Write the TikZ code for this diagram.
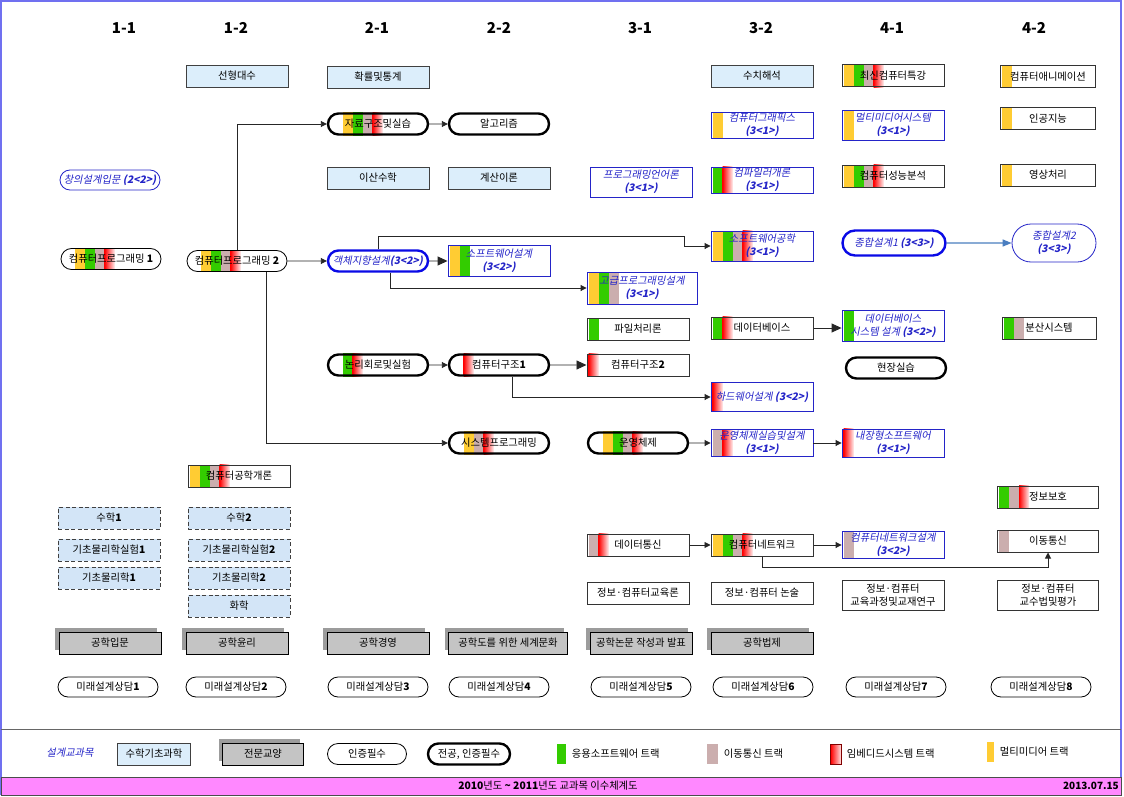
\documentclass[tikz,border=0pt]{standalone}
\usepackage{fontspec}
\setmainfont{Noto Sans CJK KR}
\newfontfamily\kritfont{Noto Sans CJK KR}[FakeSlant=0.2]
\usepackage{tikz}
\usetikzlibrary{positioning,calc,shapes.misc,arrows.meta,shadows}

\definecolor{MathBlue}{HTML}{DCEEFB}
\definecolor{SciBlue}{HTML}{D3E5F7}
\definecolor{LibGray}{HTML}{C4C4C4}
\definecolor{ShadowGray}{HTML}{9C9C9C}
\definecolor{DsnBlue}{HTML}{2424C8}
\definecolor{OopBlue}{HTML}{0A0AE6}
\definecolor{FrameBlue}{HTML}{7070F0}
\definecolor{TrkYellow}{HTML}{FFCC33}
\definecolor{TrkGreen}{HTML}{33CC00}
\definecolor{TrkPink}{HTML}{CBAEAE}
\definecolor{TrkRed}{HTML}{FF0000}
\definecolor{BarPink}{HTML}{FF88FF}
\definecolor{LinkBlue}{HTML}{4A7EC0}

\newcommand\crsfont{\fontsize{10.3}{12.5}\selectfont}
\newcommand\dsnfont{\kritfont\fontsize{10.3}{12.5}\selectfont}
\newcommand\hdrfont{\bfseries\fontsize{15}{18}\selectfont}

\pgfdeclarelayer{background}
\pgfdeclarelayer{bars}
\pgfsetlayers{background,bars,main}

% track bars at the left end of a course box
\newcommand\tracks[3][2]{%
  \begin{pgfonlayer}{bars}
  \foreach \kind [count=\i from 0] in {#3}
    \path[trk\kind] ($(#2.north west)+(#1+10*\i,0)$) rectangle ($(#2.south west)+(#1+10+10*\i,0)$);
  \end{pgfonlayer}}

\begin{document}
\begin{tikzpicture}[x=1pt,y=-1pt,
    every node/.style={font=\crsfont,inner sep=1pt,align=center},
    hdr/.style={font=\hdrfont},
    cbox/.style={rectangle,minimum width=102pt,minimum height=22pt},
    mathbox/.style={cbox,draw=black!75,line width=0.9pt,fill=MathBlue},
    scibox/.style={cbox,draw=black!75,line width=0.9pt,dash pattern=on 4pt off 2.5pt,fill=SciBlue},
    crs/.style={cbox,draw=black!80,line width=1pt},
    dsn/.style={cbox,draw=DsnBlue,line width=0.9pt,text=DsnBlue,font=\dsnfont},
    req/.style={rounded rectangle,draw=black,line width=0.8pt,minimum width=102pt,minimum height=21pt},
    major/.style={req,line width=2.4pt},
    majorblue/.style={major,draw=OopBlue,text=DsnBlue,font=\dsnfont},
    reqblue/.style={req,draw=DsnBlue,text=DsnBlue,font=\dsnfont},
    lib/.style={cbox,draw=black,line width=0.8pt,fill=LibGray,
      drop shadow={shadow xshift=-4pt,shadow yshift=4pt,fill=ShadowGray,opacity=1}},
    trkY/.style={fill=TrkYellow},
    trkG/.style={fill=TrkGreen},
    trkP/.style={fill=TrkPink},
    trkR/.style={left color=TrkRed,right color=TrkRed!8},
    swatch/.style={minimum width=9pt,minimum height=20pt,inner sep=0pt},
    arr/.style={-{Triangle[length=6pt,width=6pt]},line width=0.9pt,draw=black!85},
    arrbig/.style={arr,-{Triangle[length=10pt,width=9pt]}},
    arrblue/.style={-{Triangle[length=9pt,width=7pt]},draw=LinkBlue,line width=1.3pt}]
  \useasboundingbox (0,0) rectangle (1124,797);
  \begin{pgfonlayer}{background}
    \fill[white] (0,0) rectangle (1124,797);
  \end{pgfonlayer}

  % frame, legend rule and title bar
  \draw[FrameBlue,line width=1.5pt] (1,795) -- (1,1) -- (1121,1) -- (1121,795);
  \draw[black!60,line width=1pt] (1,729) -- (1121,729);
  \draw[fill=BarPink,draw=black!70,line width=1pt] (1,777) rectangle (1121,795);

  % semesters
  \node[hdr] (s11) at (124,28) {1-1};
  \node[hdr] (s12) at (236,28) {1-2};
  \node[hdr] (s21) at (377,28) {2-1};
  \node[hdr] (s22) at (499,28) {2-2};
  \node[hdr] (s31) at (640,28) {3-1};
  \node[hdr] (s32) at (761,28) {3-2};
  \node[hdr] (s41) at (892,28) {4-1};
  \node[hdr] (s42) at (1034,28) {4-2};

  % courses
  \node[mathbox] (linalg) at (237,76) {선형대수};
  \node[mathbox] (prob) at (378,77) {확률및통계};
  \node[mathbox] (numan) at (762,76) {수치해석};
  \node[crs] (topics) at (893,76) {최신컴퓨터특강};
  \node[crs,minimum width=95pt] (anim) at (1048,77) {컴퓨터애니메이션};

  \node[major] (ds) at (378,124) {자료구조및실습};
  \node[major] (algo) at (499,124) {알고리즘};
  \node[dsn,minimum height=26pt] (cg) at (762,125) {컴퓨터그래픽스\\\textbf{(3<1>)}};
  \node[dsn,minimum height=30pt] (mms) at (893,125) {멀티미디어시스템\\\textbf{(3<1>)}};
  \node[crs,minimum width=95pt] (ai) at (1048,119) {인공지능};

  \node[reqblue,minimum height=20pt] (cdi) at (110,180) {창의설계입문 \textbf{(2<2>)}};
  \node[mathbox] (dmath) at (378,178) {이산수학};
  \node[mathbox] (toc) at (499,178) {계산이론};
  \node[dsn,minimum height=30pt] (pl) at (641,182) {프로그래밍언어론\\\textbf{(3<1>)}};
  \node[dsn,minimum height=26pt] (comp) at (762,180) {컴파일러개론\\\textbf{(3<1>)}};
  \node[crs] (perf) at (893,176) {컴퓨터성능분석};
  \node[crs,minimum width=95pt] (img) at (1048,175) {영상처리};

  \node[req] (pg1) at (111,259) {컴퓨터프로그래밍 \textbf{1}};
  \node[req] (pg2) at (237,261) {컴퓨터프로그래밍 \textbf{2}};
  \node[majorblue] (oop) at (378,261) {객체지향설계\textbf{(3<2>)}};
  \node[dsn,minimum height=31pt] (swd) at (499,261) {소프트웨어설계\\\textbf{(3<2>)}};
  \node[dsn,minimum height=30pt] (swe) at (762,246) {소프트웨어공학\\\textbf{(3<1>)}};
  \node[majorblue,minimum width=105pt,minimum height=25pt] (cd1) at (894,243) {종합설계1 \textbf{(3<3>)}};
  \node[reqblue,minimum width=86pt,minimum height=38pt] (cd2) at (1054,243) {종합설계2\\\textbf{(3<3>)}};
  \node[dsn,minimum width=110pt,minimum height=32pt] (adv) at (642,288) {고급프로그래밍설계\\\textbf{(3<1>)}};

  \node[crs] (file) at (638,329) {파일처리론};
  \node[crs] (db) at (762,328) {데이터베이스};
  \node[dsn,minimum height=31pt] (dbsd) at (893,326) {데이터베이스\\시스템 설계 \textbf{(3<2>)}};
  \node[crs,minimum width=94pt] (dist) at (1049,328) {분산시스템};

  \node[major] (logic) at (378,365) {논리회로및실험};
  \node[major] (ca1) at (499,365) {컴퓨터구조\textbf{1}};
  \node[crs] (ca2) at (638,365) {컴퓨터구조\textbf{2}};
  \node[major] (field) at (896,368) {현장실습};
  \node[dsn,minimum height=29pt] (hw) at (762,397) {하드웨어설계 \textbf{(3<2>)}};

  \node[major] (sysp) at (499,443) {시스템프로그래밍};
  \node[major] (os) at (638,443) {운영체제};
  \node[dsn,minimum height=27pt] (osd) at (762,443) {운영체제실습및설계\\\textbf{(3<1>)}};
  \node[dsn,minimum height=28pt] (emb) at (893,443) {내장형소프트웨어\\\textbf{(3<1>)}};

  \node[crs] (cei) at (239,476) {컴퓨터공학개론};
  \node[crs,minimum width=101pt] (sec) at (1048,497) {정보보호};

  \node[scibox] (m1) at (109,518) {수학\textbf{1}};
  \node[scibox] (m2) at (239,518) {수학\textbf{2}};
  \node[scibox] (phl1) at (109,550) {기초물리학실험\textbf{1}};
  \node[scibox] (phl2) at (239,550) {기초물리학실험\textbf{2}};
  \node[scibox] (ph1) at (109,578) {기초물리학\textbf{1}};
  \node[scibox] (ph2) at (239,578) {기초물리학\textbf{2}};
  \node[scibox] (chem) at (239,606) {화학};

  \node[crs] (dc) at (638,545) {데이터통신};
  \node[crs] (net) at (762,545) {컴퓨터네트워크};
  \node[dsn,minimum height=27pt] (netd) at (893,545) {컴퓨터네트워크설계\\\textbf{(3<2>)}};
  \node[crs,minimum width=101pt] (mob) at (1048,541) {이동통신};

  \node[crs] (edu1) at (638,593) {정보·컴퓨터교육론};
  \node[crs] (edu2) at (762,593) {정보·컴퓨터 논술};
  \node[crs,minimum height=30pt] (edu3) at (893,595) {정보·컴퓨터\\교육과정및교재연구};
  \node[crs,minimum width=101pt,minimum height=30pt] (edu4) at (1048,595) {정보·컴퓨터\\교수법및평가};

  \node[lib] (ge1) at (110,643) {공학입문};
  \node[lib] (ge2) at (237,643) {공학윤리};
  \node[lib] (ge3) at (378,643) {공학경영};
  \node[lib,minimum width=119pt] (ge4) at (508,643) {공학도를 위한 세계문화};
  \node[lib] (ge5) at (641,643) {공학논문 작성과 발표};
  \node[lib] (ge6) at (762,643) {공학법제};

  \foreach \n/\x in {1/108,2/236,3/378,4/499,5/641,6/763,7/896,8/1041}
    \node[req,minimum height=20pt] (mc\n) at (\x,687) {미래설계상담\textbf{\n}};

  % tracks
  \tracks[3]{pg1}{Y,G,P,R}
  \tracks[3]{pg2}{Y,G,P,R}
  \tracks[4]{ds}{Y,G,P,R}
  \tracks{swd}{Y,G}
  \tracks[4]{logic}{G,R}
  \tracks[4]{ca1}{R}
  \tracks[4]{sysp}{Y,P,R}
  \tracks{cei}{Y,G,P,R}
  \tracks{adv}{Y,G,P}
  \tracks{file}{G}
  \tracks{ca2}{R}
  \tracks[4]{os}{Y,G,P,R}
  \tracks{dc}{P,R}
  \tracks{cg}{Y}
  \tracks{comp}{G,R}
  \tracks{swe}{Y,G,P,R}
  \tracks{db}{G,R}
  \tracks{hw}{R}
  \tracks{osd}{P,R}
  \tracks{net}{Y,G,P,R}
  \tracks{topics}{Y,G,P,R}
  \tracks{mms}{Y}
  \tracks{perf}{Y,G,P,R}
  \tracks{dbsd}{G}
  \tracks{emb}{R}
  \tracks{netd}{P}
  \tracks{anim}{Y}
  \tracks{ai}{Y}
  \tracks{img}{Y}
  \tracks{dist}{G,P}
  \tracks{sec}{G,P,R}
  \tracks{mob}{P}

  % prerequisites
  \draw[arr] (pg2.north) |- (ds.west);
  \draw[arr] (ds) -- (algo);
  \draw[arr] (pg2) -- (oop);
  \draw[arrbig] (oop) -- (swd);
  \draw[arr] (oop.north) -- ++(0,-13) -| ($(swe.west)+(-26,0)$) -- (swe.west);
  \draw[arr] ($(oop.south)+(12,0)$) |- (adv.west);
  \draw[arr] ($(pg2.south)+(29,0)$) |- (sysp.west);
  \draw[arr] (logic) -- (ca1);
  \draw[arrbig] (ca1) -- (ca2);
  \draw[arr] ($(ca1.south)+(13,0)$) |- (hw.west);
  \draw[arrbig] (db) -- (db -| dbsd.west);
  \draw[arr] (os) -- (osd);
  \draw[arr] (osd) -- (emb);
  \draw[arr] (dc) -- (net);
  \draw[arr] (net) -- (netd);
  \draw[arr] (net.south) -- ++(0,11) -| (mob.south);
  \draw[arrblue] (cd1) -- (cd2);

  % legend
  \node[text=DsnBlue,font=\dsnfont] (lgd) at (70,753) {설계교과목};
  \node[mathbox,minimum width=73pt] (lgm) at (154,754) {수학기초과학};
  \node[lib,minimum width=81pt] (lgl) at (263,754) {전문교양};
  \node[req,minimum width=81pt] (lgr) at (367,754) {인증필수};
  \node[major,minimum width=84pt] (lgc) at (469,754) {전공, 인증필수};
  \node[swatch,trkG] (lgG) at (561,754) {};
  \node[right=5pt of lgG] (lgGt) {응용소프트웨어 트랙};
  \node[swatch,trkP,minimum width=11pt] (lgP) at (712,754) {};
  \node[right=5pt of lgP] (lgPt) {이동통신 트랙};
  \node[swatch,trkR,draw=red!50!black,minimum width=11pt] (lgR) at (836,754) {};
  \node[right=4pt of lgR] (lgRt) {임베디드시스템 트랙};
  \node[swatch,trkY,minimum width=7pt] (lgY) at (990,752) {};
  \node[right=5pt of lgY] (lgYt) {멀티미디어 트랙};

  % title bar
  \node[font=\fontsize{10.3}{12}\selectfont] (title) at (548,786) {\textbf{2010}년도 \textbf{\textasciitilde} \textbf{2011}년도 교과목 이수체계도};
  \node[font=\bfseries\fontsize{10}{12}\selectfont,anchor=east] (date) at (1120,786) {2013.07.15};
\end{tikzpicture}
\end{document}
